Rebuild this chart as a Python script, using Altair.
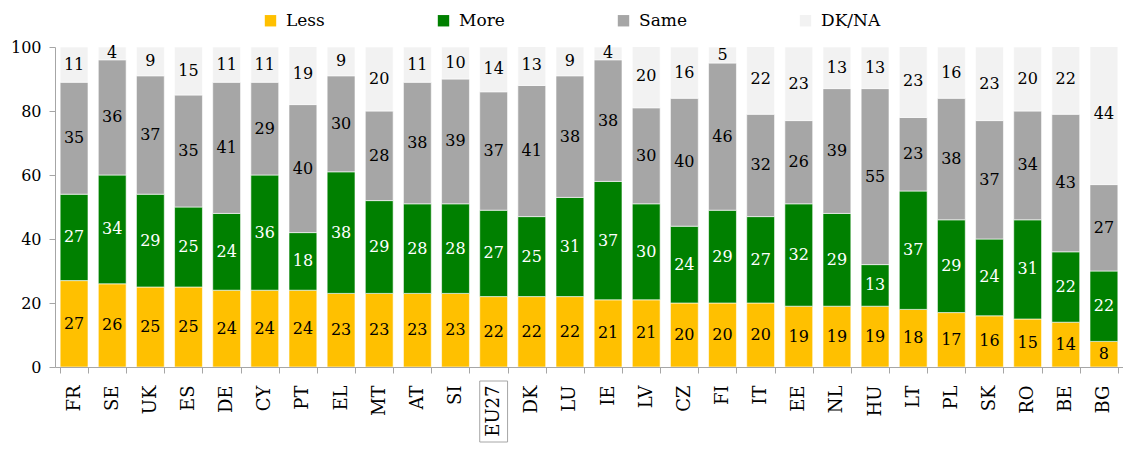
import altair as alt
import pandas as pd

countries = ["FR", "SE", "UK", "ES", "DE", "CY", "PT", "EL", "MT", "AT", "SI", "EU27", "DK", "LU",
             "IE", "LV", "CZ", "FI", "IT", "EE", "NL", "HU", "LT", "PL", "SK", "RO", "BE", "BG"]
less = [27, 26, 25, 25, 24, 24, 24, 23, 23, 23, 23, 22, 22, 22, 21, 21, 20, 20, 20, 19, 19, 19, 18, 17, 16, 15, 14, 8]
more = [27, 34, 29, 25, 24, 36, 18, 38, 29, 28, 28, 27, 25, 31, 37, 30, 24, 29, 27, 32, 29, 13, 37, 29, 24, 31, 22, 22]
same = [35, 36, 37, 35, 41, 29, 40, 30, 28, 38, 39, 37, 41, 38, 38, 30, 40, 46, 32, 26, 39, 55, 23, 38, 37, 34, 43, 27]
dkna = [11, 4, 9, 15, 11, 11, 19, 9, 20, 11, 10, 14, 13, 9, 4, 20, 16, 5, 22, 23, 13, 13, 23, 16, 23, 20, 22, 44]
series = ["Less", "More", "Same", "DK/NA"]
colors = ["#FFC000", "#008000", "#A6A6A6", "#F2F2F2"]
y_ticks = [0, 20, 40, 60, 80, 100]

rows = []
for i, c in enumerate(countries):
    for k, (s, vals) in enumerate(zip(series, [less, more, same, dkna])):
        rows.append({"country": c, "series": s, "value": vals[i], "order": k})
df = pd.DataFrame(rows)

FONT = "DejaVu Serif"
W, H = 1068, 320

x_enc = alt.X(
    "country:N", sort=countries,
    scale=alt.Scale(paddingInner=0.27, paddingOuter=0.135),
    axis=alt.Axis(title=None, labelAngle=-90, labelAlign="right", labelBaseline="middle",
                  labelFont=FONT, labelFontSize=18, labelColor="black", labelPadding=12,
                  tickBand="extent", tickSize=6, tickColor="#a6a6a6", domainColor="#a6a6a6"),
)

base = alt.Chart(df)

bars = base.mark_bar(clip=True, stroke="white", strokeWidth=0.6).encode(
    x=x_enc,
    y=alt.Y("value:Q", stack="zero",
            scale=alt.Scale(domain=[0, 100], nice=False),
            axis=alt.Axis(title=None, values=y_ticks, grid=False, tickSize=6, tickColor="#a6a6a6",
                          domainColor="#a6a6a6", labelFont=FONT, labelFontSize=16,
                          labelColor="black", labelPadding=8)),
    order=alt.Order("order:Q"),
    color=alt.Color("series:N", sort=series,
                    scale=alt.Scale(domain=series, range=colors),
                    legend=alt.Legend(title=None, orient="none", legendX=207, legendY=-35,
                                      direction="horizontal", symbolType="square", symbolSize=130,
                                      symbolStrokeWidth=0, labelFont=FONT, labelFontSize=17,
                                      labelColor="black", columnPadding=110, labelOffset=7)),
)

labels = base.transform_stack(
    stack="value", groupby=["country"], sort=[alt.SortField("order")], as_=["v0", "v1"]
).transform_calculate(
    mid="(datum.v0 + datum.v1) / 2"
).mark_text(font=FONT, fontSize=16, baseline="middle").encode(
    x=alt.X("country:N", sort=countries),
    y=alt.Y("mid:Q"),
    text=alt.Text("value:Q"),
    color=alt.condition(alt.datum.series == "More", alt.value("white"), alt.value("black")),
)

box = base.transform_filter(
    alt.datum.country == "EU27"
).transform_filter(
    alt.datum.series == "Less"
).mark_rect(fillOpacity=0, stroke="#a6a6a6", strokeWidth=1).encode(
    x=alt.X("country:N", sort=countries),
    y=alt.value(H + 14),
    y2=alt.value(H + 75),
)

chart = alt.layer(bars, labels, box).properties(
    width=W, height=H,
    padding={"left": 2, "top": 4, "right": 0, "bottom": 0},
).configure_view(strokeWidth=0)

chart.save("out.html", embed_options={"renderer": "svg", "actions": False})
